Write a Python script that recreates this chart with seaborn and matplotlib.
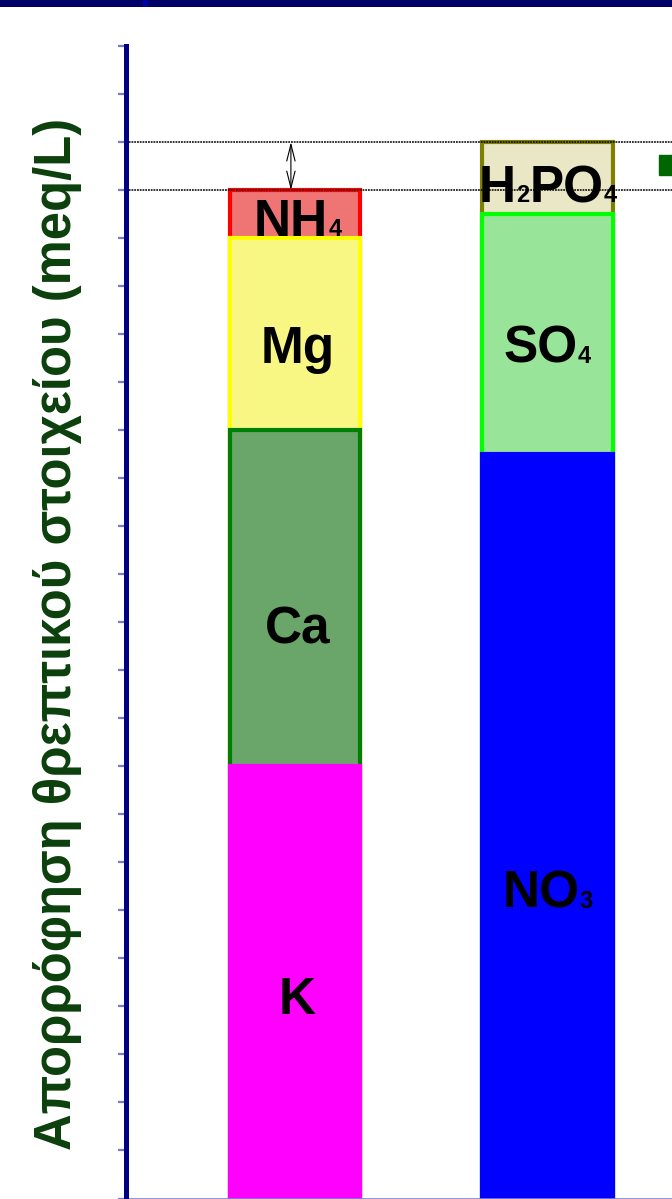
import matplotlib
matplotlib.use("Agg")
import matplotlib.pyplot as plt
from matplotlib.patches import Rectangle
from matplotlib.transforms import ScaledTranslation
import numpy as np
import pandas as pd
import seaborn as sns

# Nutrient uptake (meq/L): cations vs anions
groups = ["Κατιόντα", "Ανιόντα"]
cation_ions = ["K", "Ca", "Mg", "NH4"]
cation_values = [9, 7, 4, 1]
anion_ions = ["NO3", "SO4", "H2PO4"]
anion_values = [15.5, 5, 1.5]

# label pieces: (text, is_subscript)
ion_labels = {
    "K": [("K", False)],
    "Ca": [("Ca", False)],
    "Mg": [("Mg", False)],
    "NH4": [("NH", False), ("4", True)],
    "NO3": [("NO", False), ("3", True)],
    "SO4": [("SO", False), ("4", True)],
    "H2PO4": [("H", False), ("2", True), ("PO", False), ("4", True)],
}
ylabel = "Απορρόφηση θρεπτικού στοιχείου (meq/L)"

face = {"K": "#ff00ff", "Ca": "#6aa66a", "Mg": "#f9f784", "NH4": "#ef7474",
        "NO3": "#0000ff", "SO4": "#98e498", "H2PO4": "#e9e7c6"}
edge = {"K": "#ff00ff", "Ca": "#008000", "Mg": "#ffff00", "NH4": "#ff0000",
        "NO3": "#0000ff", "SO4": "#00ff00", "H2PO4": "#808000"}
# baseline of each label (data units)
label_base = {"K": 3.85, "Ca": 11.55, "Mg": 17.4, "NH4": 20.05,
              "NO3": 6.05, "SO4": 17.4, "H2PO4": 20.75}

sns.set_theme(style="white")
plt.rcParams["font.family"] = ["Liberation Sans", "DejaVu Sans"]

W, H, DPI = 672, 1199, 100
fig = plt.figure(figsize=(W / DPI, H / DPI), dpi=DPI)
ax = fig.add_axes([126 / W, 0.5 / H, 1 - 126 / W, (1199.5 - 47) / H])

bar_w = 0.515

def draw_stack(group, ions, values):
    cum = np.cumsum(values)
    # tallest first so lower segments sit on top of it
    for ion, top in reversed(list(zip(ions, cum))):
        df = pd.DataFrame({"group": [group], "value": [top]})
        sns.barplot(data=df, x="group", y="value", order=groups, width=bar_w,
                    color=face[ion], saturation=1, edgecolor=edge[ion],
                    linewidth=3.0, ax=ax, zorder=2)

draw_stack(groups[0], cation_ions, cation_values)
draw_stack(groups[1], anion_ions, anion_values)

ax.set_xlim(-0.669, 1.493)
ax.set_ylim(0, 24)
ax.set_xlabel("")
ax.set_ylabel("")
ax.set_xticks([])
ax.set_yticks(np.arange(0, 25, 1))
ax.set_yticklabels([])
ax.tick_params(axis="y", direction="out", length=6, width=1.6,
               color="#7a7ac8", left=True)
for s in ("top", "right"):
    ax.spines[s].set_visible(False)
ax.spines["left"].set_color("#000080")
ax.spines["left"].set_linewidth(3.6)
ax.spines["left"].set_zorder(5)
ax.spines["bottom"].set_color("#8080d0")
ax.spines["bottom"].set_linewidth(1.2)

# reference levels of the two totals and the gap between them
cat_total = sum(cation_values)
an_total = sum(anion_values)
for lvl in (cat_total, an_total):
    ax.axhline(lvl, color="black", lw=1.1, ls=(0, (1.2, 0.6)), zorder=3)
ax.annotate("", xy=(-0.016, an_total), xytext=(-0.016, cat_total),
            arrowprops=dict(arrowstyle="<->,head_length=1.0,head_width=0.25",
                            lw=0.8, color="black", shrinkA=0, shrinkB=0),
            zorder=4)
ax.plot([1.481], [21.52], marker="s", ms=14.5, color="#006600",
        clip_on=False, zorder=4)

# segment labels with subscripts
renderer = fig.canvas.get_renderer()
BIG, SMALL = 37, 17

def ion_label(xc, yb, pieces):
    arts = []
    for txt, sub in pieces:
        t = ax.text(xc, yb, txt, fontsize=SMALL if sub else BIG,
                    fontweight="bold", color="black", ha="left",
                    va="baseline", zorder=6)
        arts.append(t)
    widths = [t.get_window_extent(renderer).width for t in arts]
    gap = 0.2
    total = sum(widths) + gap * (len(widths) - 1)
    off = -total / 2
    for t, w in zip(arts, widths):
        t.set_transform(ax.transData +
                        ScaledTranslation(off / DPI, 0, fig.dpi_scale_trans))
        off += w + gap

for ion in cation_ions:
    ion_label(0.01, label_base[ion], ion_labels[ion])
for ion in anion_ions:
    ion_label(1.0, label_base[ion], ion_labels[ion])

ax.text(-0.125, 0.49, ylabel, transform=ax.transAxes, rotation=90,
        ha="center", va="center", fontsize=36.5, fontweight="bold",
        color="#0b3f0b")

# title band along the top edge
fig.add_artist(Rectangle((0, 1 - 7 / H), 1, 7 / H, transform=fig.transFigure,
                         color="#000066", lw=0))
fig.add_artist(Rectangle((143 / W, 1 - 7 / H), 5 / W, 7 / H,
                         transform=fig.transFigure, color="#0000a8", lw=0))

fig.savefig("out.png", dpi=DPI)
